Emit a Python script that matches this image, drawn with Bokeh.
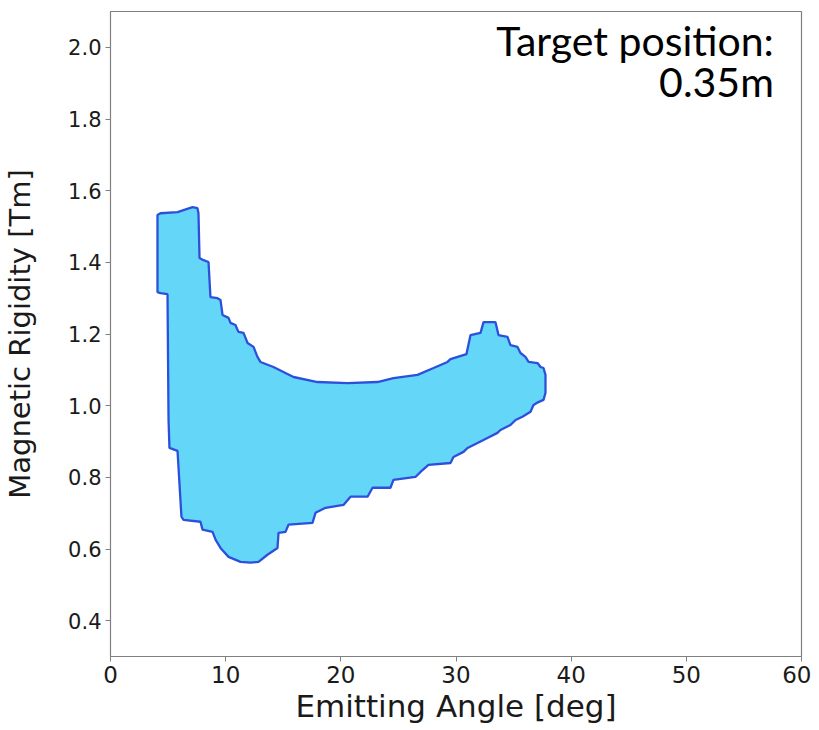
from bokeh.plotting import figure
from bokeh.models import Range1d, FixedTicker, PrintfTickFormatter, Label
from bokeh.embed import file_html
from bokeh.resources import INLINE

# Acceptance region boundary (clockwise from top-left)
angle_deg = [4.08, 4.34, 5.82, 7.12, 7.55, 7.64, 7.73, 8.08, 8.51, 8.68,
             9.29, 9.55, 9.73, 10.25, 10.42, 10.85, 11.11, 11.55, 11.90, 12.42,
             12.76, 13.02, 14.15, 15.89, 17.97, 20.58, 23.18, 24.57, 26.66, 28.05,
             29.26, 29.52, 30.91, 31.26, 32.13, 32.39, 33.43, 33.69, 34.47, 34.73,
             35.34, 35.60, 36.03, 36.30, 37.08, 37.34, 37.60, 37.77, 37.77, 37.60,
             37.16, 36.73, 36.47, 35.77, 35.17, 34.73, 33.86, 33.60, 32.73, 31.87,
             31.00, 30.65, 29.78, 29.52, 27.61, 26.92, 26.48, 24.57, 24.31, 22.75,
             22.32, 20.84, 20.23, 18.67, 17.80, 17.54, 15.46, 15.20, 14.59, 14.50,
             13.63, 12.85, 12.16, 11.29, 10.25, 9.55, 9.12, 8.86, 7.99, 7.81,
             6.34, 6.16, 5.82, 5.12, 5.04, 4.95, 4.34, 4.08]
rigidity_tm = [1.532, 1.537, 1.540, 1.554, 1.551, 1.537, 1.412, 1.406, 1.401, 1.303,
               1.300, 1.295, 1.253, 1.245, 1.231, 1.225, 1.206, 1.203, 1.175, 1.164,
               1.136, 1.122, 1.108, 1.080, 1.066, 1.063, 1.066, 1.077, 1.086, 1.105,
               1.122, 1.130, 1.144, 1.197, 1.203, 1.233, 1.233, 1.197, 1.192, 1.169,
               1.164, 1.147, 1.136, 1.122, 1.119, 1.108, 1.105, 1.086, 1.036, 1.016,
               1.010, 1.002, 0.983, 0.969, 0.960, 0.946, 0.932, 0.924, 0.910, 0.896,
               0.882, 0.871, 0.857, 0.840, 0.835, 0.815, 0.801, 0.793, 0.771, 0.771,
               0.746, 0.746, 0.723, 0.715, 0.701, 0.673, 0.668, 0.648, 0.645, 0.603,
               0.584, 0.564, 0.562, 0.564, 0.578, 0.603, 0.626, 0.648, 0.654, 0.676,
               0.681, 0.690, 0.874, 0.882, 0.960, 1.311, 1.314, 1.317]
assert len(angle_deg) == len(rigidity_tm)

x_ticks = [0, 10, 20, 30, 40, 50, 60]
y_ticks = [0.4, 0.6, 0.8, 1.0, 1.2, 1.4, 1.6, 1.8, 2.0]
note_lines = ["Target position:", "0.35m"]

p = figure(frame_width=691, frame_height=645,
           x_range=Range1d(0, 60), y_range=Range1d(0.3, 2.1),
           output_backend="svg", toolbar_location=None,
           min_border_left=102, min_border_top=11, min_border_right=10,
           min_border_bottom=64)

p.patch(angle_deg, rigidity_tm, fill_color="#64D7F8", line_color="#2C50DC",
        line_width=2.3)

p.grid.visible = False
p.outline_line_color = "#808080"
p.outline_line_width = 1.2

for ax in (p.xaxis[0], p.yaxis[0]):
    ax.axis_line_color = "#808080"
    ax.major_tick_line_color = "#808080"
    ax.minor_tick_line_color = None
    ax.major_tick_in = 0
    ax.major_tick_out = 5
    ax.major_label_text_color = "#1a1a1a"
    ax.major_label_text_font = "DejaVu Sans"
    ax.axis_label_text_font = "DejaVu Sans"
    ax.axis_label_text_font_style = "normal"
    ax.axis_label_text_color = "#1a1a1a"

p.xaxis.ticker = FixedTicker(ticks=x_ticks)
p.yaxis.ticker = FixedTicker(ticks=y_ticks)
p.xaxis.formatter = PrintfTickFormatter(format="%d")
p.yaxis.formatter = PrintfTickFormatter(format="%.1f")
p.xaxis.major_label_text_font_size = "23px"
p.yaxis.major_label_text_font_size = "21px"
p.xaxis.major_label_standoff = 4
p.yaxis.major_label_standoff = 4

p.xaxis.axis_label = "Emitting Angle [deg]"
p.yaxis.axis_label = "Magnetic Rigidity [Tm]"
p.xaxis.axis_label_text_font_size = "31px"
p.yaxis.axis_label_text_font_size = "29px"
p.xaxis.axis_label_standoff = 2
p.yaxis.axis_label_standoff = 28

p.add_layout(Label(x=57.6, y=2.020, text=note_lines[0], text_align="right",
                   text_baseline="alphabetic", text_font="Lato",
                   text_font_size="41px", text_color="#000000"))
p.add_layout(Label(x=57.6, y=1.906, text=note_lines[1], text_align="right",
                   text_baseline="alphabetic", text_font="Lato",
                   text_font_size="41px", text_color="#000000"))

open("out.html", "w").write(file_html(p, INLINE))
